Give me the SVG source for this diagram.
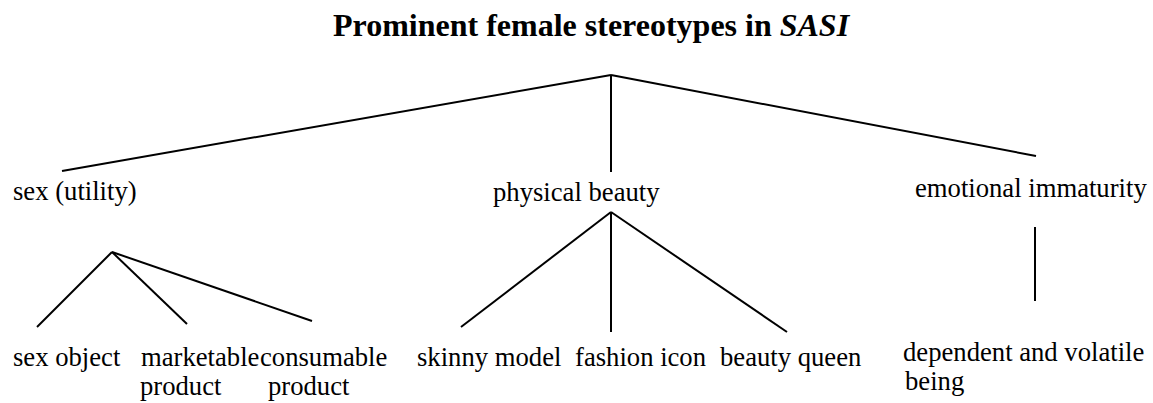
<svg xmlns="http://www.w3.org/2000/svg" width="1153" height="403" viewBox="0 0 1153 403">
<style>
text{font-family:"Liberation Serif","Times New Roman",serif;fill:#000}
.t{font-size:32px;font-weight:bold}
.l{font-size:26.67px}
.c line{stroke:#000;stroke-width:2;stroke-linecap:butt}
</style>
<rect width="1153" height="403" fill="#fff"/>
<g id="title"><text class="t" x="333" y="36">Prominent female stereotypes in <tspan font-style="italic">SASI</tspan></text></g>
<g class="c" id="connectors">
<line x1="611" y1="75" x2="62" y2="171"/>
<line x1="611" y1="75" x2="611" y2="172"/>
<line x1="611" y1="75" x2="1036" y2="156"/>
<line x1="112" y1="252" x2="37" y2="327"/>
<line x1="112" y1="252" x2="187" y2="324"/>
<line x1="112" y1="252" x2="312" y2="321"/>
<line x1="611" y1="212" x2="461" y2="327"/>
<line x1="611" y1="212" x2="611" y2="332"/>
<line x1="611" y1="212" x2="787" y2="332"/>
<line x1="1035" y1="227" x2="1035" y2="301"/>
</g>
<g id="n-sex"><text class="l" x="13" y="200">sex (utility)</text></g>
<g id="n-beauty"><text class="l" x="493" y="200.5">physical beauty</text></g>
<g id="n-emotional"><text class="l" x="915" y="196.5">emotional immaturity</text></g>
<g id="n-sexobject"><text class="l" x="13" y="366">sex object</text></g>
<g id="n-marketable"><text class="l" x="141" y="366">marketable</text><text class="l" x="140" y="395">product</text></g>
<g id="n-consumable"><text class="l" x="260" y="366">consumable</text><text class="l" x="268" y="395">product</text></g>
<g id="n-skinny"><text class="l" x="417" y="366">skinny model</text></g>
<g id="n-fashion"><text class="l" x="575" y="366">fashion icon</text></g>
<g id="n-queen"><text class="l" x="720" y="366">beauty queen</text></g>
<g id="n-dependent"><text class="l" x="903" y="361">dependent and volatile</text><text class="l" x="905" y="390">being</text></g>
</svg>
